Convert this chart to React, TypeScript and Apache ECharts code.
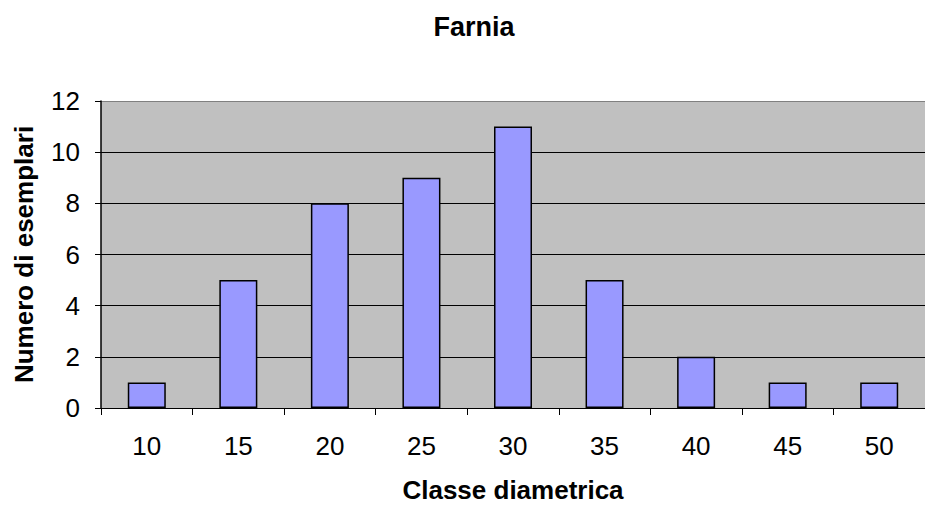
import React, { useEffect, useRef } from "react";
import * as echarts from "echarts";

const categories = ["10", "15", "20", "25", "30", "35", "40", "45", "50"];
const values = [1, 5, 8, 9, 11, 5, 2, 1, 1];
const titleText = "Farnia";
const xName = "Classe diametrica";
const yName = "Numero di esemplari";

export default function App() {
  const ref = useRef<HTMLDivElement>(null);
  useEffect(() => {
    document.body.style.margin = "0";
    const chart = echarts.init(ref.current!, null, { renderer: "svg" });
    const font = "'Liberation Sans', Arial, sans-serif";
    chart.setOption({
      animation: false,
      backgroundColor: "#ffffff",
      title: {
        text: titleText,
        left: 469,
        top: 8,
        textAlign: "center",
        textStyle: { fontFamily: font, fontSize: 27, fontWeight: "bold", color: "#000" },
      },
      grid: {
        left: 101,
        top: 101,
        width: 835,
        height: 312,
        show: true,
        backgroundColor: "#C0C0C0",
        borderWidth: 0,
      },
      xAxis: {
        type: "category",
        data: categories,
        name: xName,
        nameLocation: "middle",
        nameGap: 69,
        nameTextStyle: { fontFamily: font, fontSize: 26, fontWeight: "bold", color: "#000" },
        axisLine: { show: true, lineStyle: { color: "#000", width: 1 } },
        axisTick: { show: true, alignWithLabel: false, length: 7, lineStyle: { color: "#000" } },
        axisLabel: { fontFamily: font, fontSize: 26, color: "#000", margin: 25 },
        splitLine: { show: false },
      },
      yAxis: {
        type: "value",
        min: 0,
        max: 12,
        interval: 2,
        name: yName,
        nameLocation: "middle",
        nameGap: 64,
        nameTextStyle: { fontFamily: font, fontSize: 26, fontWeight: "bold", color: "#000" },
        axisLine: { show: true, lineStyle: { color: "#000", width: 1.5 } },
        axisTick: { show: true, length: 6, lineStyle: { color: "#000" } },
        axisLabel: { fontFamily: font, fontSize: 26, color: "#000", margin: 21 },
        splitLine: {
          show: true,
          lineStyle: {
            color: ["#000", "#000", "#000", "#000", "#000", "#000", "#808080"],
            width: 1,
          },
        },
      },
      series: [
        {
          type: "bar",
          data: values,
          barWidth: 38,
          itemStyle: { color: "#9999FF", borderColor: "#000", borderWidth: 1.5 },
        },
      ],
    });
    return () => chart.dispose();
  }, []);
  return <div ref={ref} style={{ width: 925, height: 508 }} />;
}
